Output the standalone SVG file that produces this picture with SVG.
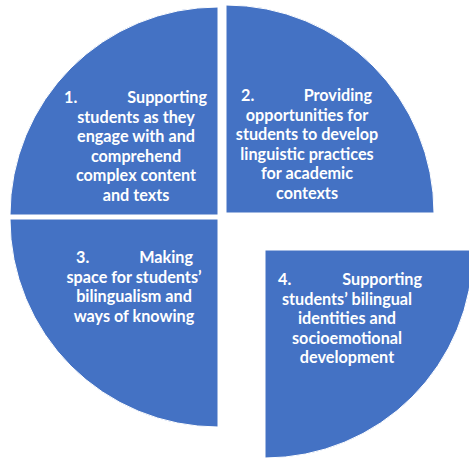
<svg xmlns="http://www.w3.org/2000/svg" width="469" height="458" viewBox="0 0 469 458">
  <style>
    .slice { fill: #4472C4; stroke: #ffffff; stroke-width: 1; }
    .label { font-family: Lato, "Open Sans", "DejaVu Sans", sans-serif; font-weight: 700; font-size: 16.2px; fill: #ffffff; }
    .mid { text-anchor: middle; }
    .end { text-anchor: end; }
  </style>
  <rect width="469" height="458" fill="#ffffff"/>

  <g id="slice-1">
    <path class="slice" d="M218,215 L218,7 A208,208 0 0 0 10,215 Z"/>
    <text class="label" x="64" y="103">1.</text>
    <text class="label end" x="207" y="103">Supporting</text>
    <text class="label mid" x="136" y="122.5">students as they</text>
    <text class="label mid" x="136" y="142">engage with and</text>
    <text class="label mid" x="136" y="161.5">comprehend</text>
    <text class="label mid" x="136" y="181">complex content</text>
    <text class="label mid" x="136" y="200.5">and texts</text>
  </g>

  <g id="slice-2">
    <path class="slice" d="M226,213 L226,5 A208,208 0 0 1 434,213 Z"/>
    <text class="label" x="241" y="101">2.</text>
    <text class="label end" x="372" y="101">Providing</text>
    <text class="label mid" x="307" y="120.5">opportunities for</text>
    <text class="label mid" x="307" y="140">students to develop</text>
    <text class="label mid" x="307" y="159.5">linguistic practices</text>
    <text class="label mid" x="307" y="179">for academic</text>
    <text class="label mid" x="307" y="198.5">contexts</text>
  </g>

  <g id="slice-3">
    <path class="slice" d="M218,219 L10,219 A208,208 0 0 0 218,427 Z"/>
    <text class="label" x="76" y="263">3.</text>
    <text class="label end" x="193" y="263">Making</text>
    <text class="label mid" x="134" y="282.5">space for students’</text>
    <text class="label mid" x="134" y="302">bilingualism and</text>
    <text class="label mid" x="134" y="321.5">ways of knowing</text>
  </g>

  <g id="slice-4">
    <path class="slice" d="M265,250 L473,250 A208,208 0 0 1 265,458 Z"/>
    <text class="label" x="278" y="285">4.</text>
    <text class="label end" x="422" y="285">Supporting</text>
    <text class="label mid" x="347" y="304.5">students’ bilingual</text>
    <text class="label mid" x="347" y="324">identities and</text>
    <text class="label mid" x="347" y="343.5">socioemotional</text>
    <text class="label mid" x="347" y="363">development</text>
  </g>
</svg>
